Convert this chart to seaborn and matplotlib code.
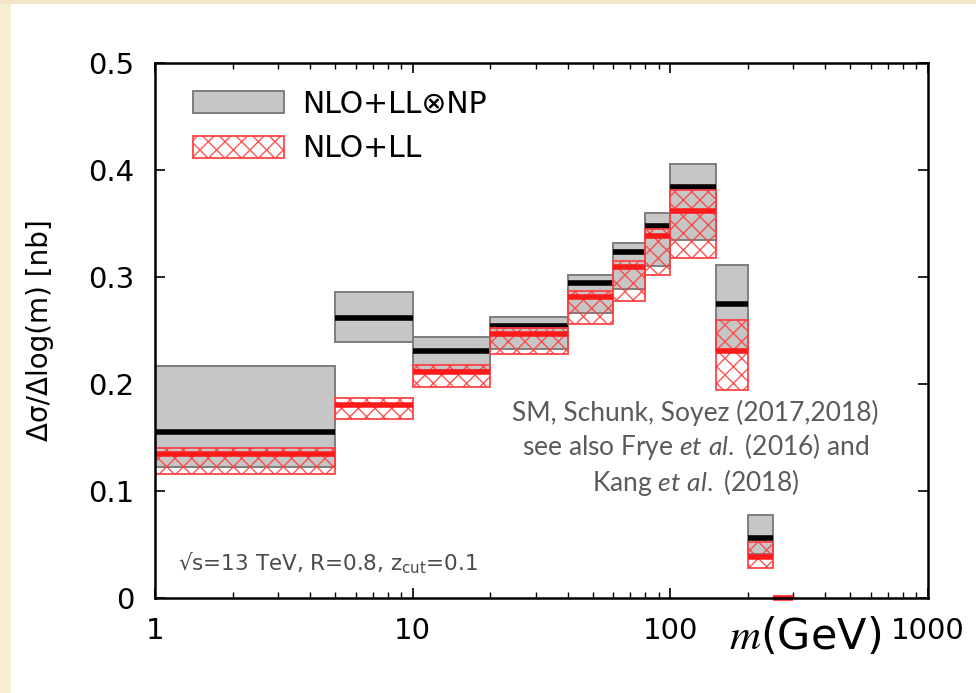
import numpy as np
import pandas as pd
import matplotlib
matplotlib.use("Agg")
import matplotlib.pyplot as plt
from matplotlib.patches import Patch, Rectangle
import seaborn as sns

# Jet mass bins (GeV) and soft-drop mass distributions
edges = [1, 5, 10, 20, 40, 60, 80, 100, 150, 200, 250, 300]

# NLO+LL (x) NP : central value and uncertainty band
np_center = [0.155, 0.262, 0.231, 0.254, 0.294, 0.323, 0.348, 0.384, 0.2745, 0.056]
np_lo = [0.122, 0.239, 0.213, 0.233, 0.266, 0.289, 0.310, 0.335, 0.232, 0.041]
np_hi = [0.217, 0.286, 0.244, 0.263, 0.302, 0.332, 0.360, 0.406, 0.311, 0.078]

# NLO+LL : central value and uncertainty band
ll_center = [0.1346, 0.180, 0.211, 0.247, 0.281, 0.309, 0.338, 0.362, 0.231, 0.0386, 0.0]
ll_lo = [0.116, 0.167, 0.197, 0.228, 0.256, 0.278, 0.302, 0.318, 0.194, 0.0277, 0.0]
ll_hi = [0.140, 0.187, 0.218, 0.252, 0.287, 0.315, 0.345, 0.381, 0.260, 0.0527, 0.0]

legend_labels = ["NLO+LL\u2297NP", "NLO+LL"]
x_ticks = [1, 10, 100, 1000]
x_ticklabels = ["1", "10", "100", "1000"]
y_ticks = [0, 0.1, 0.2, 0.3, 0.4, 0.5]
y_ticklabels = ["0", "0.1", "0.2", "0.3", "0.4", "0.5"]

sns.set_style("ticks")
plt.rcParams["font.family"] = ["DejaVu Sans"]
plt.rcParams["text.color"] = "black"
plt.rcParams["axes.labelcolor"] = "black"
plt.rcParams["xtick.color"] = "black"
plt.rcParams["ytick.color"] = "black"
plt.rcParams["mathtext.rm"] = "Lato"
plt.rcParams["mathtext.it"] = "Lato:italic"
plt.rcParams["hatch.linewidth"] = 1.0

GRAY_FILL = "#c6c6c6"
GRAY_EDGE = "#7e7e7e"
RED = "#ff1a1a"
RED_HATCH = (1.0, 0.25, 0.25, 0.9)

fig = plt.figure(figsize=(9.76, 6.93), dpi=100)
fig.patch.set_facecolor("white")
# parchment strips along the left and top edges
fig.patches.append(Rectangle((0, 0), 11 / 976, 1, transform=fig.transFigure,
                             facecolor="#f6eed3", edgecolor="none", zorder=0))
fig.patches.append(Rectangle((0, 1 - 4 / 693), 1, 4 / 693, transform=fig.transFigure,
                             facecolor="#f1e7c8", edgecolor="none", zorder=0))

ax = fig.add_axes([155 / 976, 1 - 598 / 693, 773 / 976, 535 / 693])
ax.set_xscale("log")

lo_np = np.array(edges[:len(np_center)])
hi_np = np.array(edges[1:len(np_center) + 1])
lo_ll = np.array(edges[:len(ll_center)])
hi_ll = np.array(edges[1:len(ll_center) + 1])

# NP band
ax.bar(lo_np, np.array(np_hi) - np.array(np_lo), width=hi_np - lo_np,
       bottom=np_lo, align="edge", facecolor=GRAY_FILL, edgecolor=GRAY_EDGE,
       linewidth=1.4, zorder=1)

# central lines as one segment per bin
def segments(centers):
    rows = []
    for i, c in enumerate(centers):
        rows.append({"m": edges[i], "y": c, "bin": i})
        rows.append({"m": edges[i + 1], "y": c, "bin": i})
    return pd.DataFrame(rows)

sns.lineplot(data=segments(np_center), x="m", y="y", units="bin", estimator=None,
             color="black", linewidth=4.0, solid_capstyle="butt", ax=ax,
             legend=False, zorder=2)

# NLO+LL band (hatched)
ax.bar(lo_ll, np.array(ll_hi) - np.array(ll_lo), width=hi_ll - lo_ll,
       bottom=ll_lo, align="edge", facecolor="none", edgecolor=RED_HATCH,
       hatch="xx", linewidth=1.4, zorder=3)

sns.lineplot(data=segments(ll_center), x="m", y="y", units="bin",
             estimator=None, color=RED, linewidth=4.0,
             solid_capstyle="butt", ax=ax, legend=False, zorder=4)
for ln in ax.lines:
    ln.set_clip_on(False)

ax.set_xlim(1, 1000)
ax.set_ylim(0, 0.5)
ax.set_xlabel("")
ax.set_ylabel("")
ax.set_xticks(x_ticks, labels=x_ticklabels)
ax.set_yticks(y_ticks, labels=y_ticklabels)
ax.yaxis.set_minor_locator(matplotlib.ticker.NullLocator())

for s in ax.spines.values():
    s.set_linewidth(1.8)
    s.set_color("black")
    s.set_zorder(5)
ax.tick_params(which="both", direction="in", top=True, right=True,
               color="black", labelcolor="black")
ax.tick_params(which="major", length=7.5, width=1.2, labelsize=21)
ax.tick_params(which="minor", length=4.5, width=1.0)
ax.tick_params(axis="x", which="major", pad=14)
ax.tick_params(axis="y", which="major", pad=15)

# axis titles
fig.text(40 / 976, 1 - 330 / 693, "\u0394\u03c3/\u0394log(m) [nb]", rotation=90,
         ha="center", va="center", fontsize=20, color="black")
ax.text(0.742, -0.072, "$m$(GeV)", transform=ax.transAxes, ha="left", va="center",
        fontsize=31, color="black", math_fontfamily="stix")

# legend
handles = [
    Patch(facecolor=GRAY_FILL, edgecolor=GRAY_EDGE, linewidth=1.4),
    Patch(facecolor="none", edgecolor=RED_HATCH, hatch="xx", linewidth=1.4),
]
ax.legend(handles, legend_labels, loc="upper left", bbox_to_anchor=(0.049, 0.95),
          frameon=False, fontsize=21.5, handlelength=3.05, handleheight=0.75,
          handletextpad=0.62, labelspacing=0.52, borderaxespad=0, borderpad=0,
          labelcolor="black")

# annotations
ax.text(0.699, 0.279,
        "SM, Schunk, Soyez (2017,2018)\nsee also Frye $\\mathit{et\\ al.}$ (2016) and\nKang $\\mathit{et\\ al.}$ (2018)",
        transform=ax.transAxes, ha="center", va="center", fontsize=19,
        family="Lato", color="#5a5a5a", linespacing=1.22, math_fontfamily="custom")
ax.text(0.030, 0.065, "\u221as=13 TeV, R=0.8, z$_{\\rm cut}$=0.1",
        transform=ax.transAxes, ha="left", va="center", fontsize=15.5,
        color="#4a4a4a", math_fontfamily="dejavusans")

fig.savefig("out.png", dpi=100)
